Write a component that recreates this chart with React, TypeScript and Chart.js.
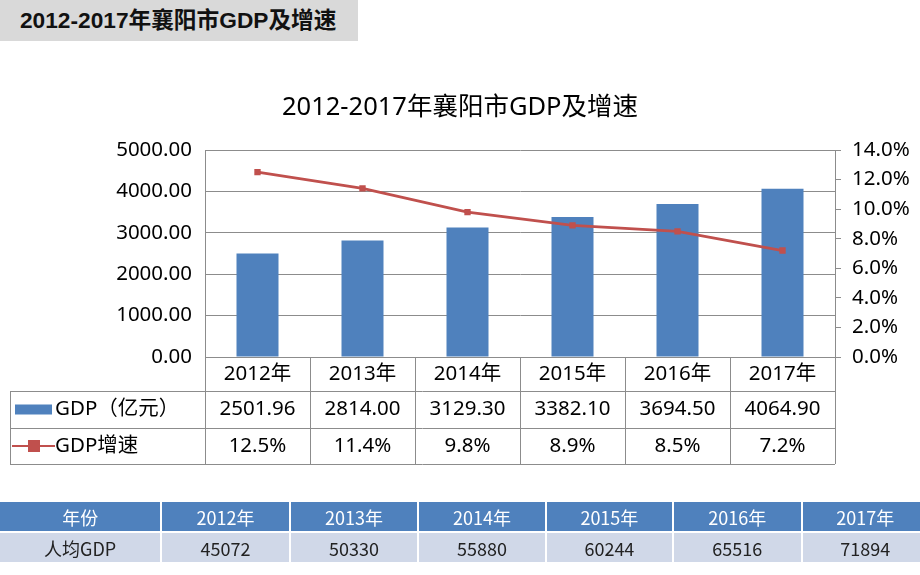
import React, { useEffect, useRef } from "react";
import { Chart, registerables } from "chart.js";

Chart.register(...registerables);

const headerTitle = "2012-2017年襄阳市GDP及增速";
const chartTitle = "2012-2017年襄阳市GDP及增速";
const categories = ["2012年", "2013年", "2014年", "2015年", "2016年", "2017年"];
const gdpLabel = "GDP（亿元）";
const gdpValues = [2501.96, 2814.0, 3129.3, 3382.1, 3694.5, 4064.9];
const rateLabel = "GDP增速";
const rateValues = [12.5, 11.4, 9.8, 8.9, 8.5, 7.2];
const perCapitaHeader = "年份";
const perCapitaLabel = "人均GDP";
const perCapitaValues = [45072, 50330, 55880, 60244, 65516, 71894];

const BLUE = "#4f81bd";
const RED = "#c0504d";
const GRID = "#8c8c8c";
const FONT = "'Noto Sans', 'Noto Sans CJK SC', sans-serif";
const FS = 20.5;

const tablePlugin = {
  id: "dataTable",
  afterDraw(chart: any) {
    const { ctx, chartArea, scales } = chart;
    const xs = scales.x;
    const n = categories.length;
    const left = chartArea.left;
    const right = chartArea.right;
    const cw = (right - left) / n;
    const top = chartArea.bottom;
    const r1 = top + 34;
    const r2 = r1 + 37;
    const r3 = r2 + 36;
    const legendLeft = 10;
    ctx.save();
    ctx.fillStyle = "#000";
    ctx.font = `25.5px ${FONT}`;
    ctx.textAlign = "center";
    ctx.textBaseline = "middle";
    ctx.fillText(chartTitle, 460, 108);

    ctx.strokeStyle = GRID;
    ctx.lineWidth = 1;
    ctx.beginPath();
    [r1, r2, r3].forEach((y) => {
      ctx.moveTo(legendLeft, y + 0.5);
      ctx.lineTo(right, y + 0.5);
    });
    for (let i = 0; i <= n; i++) {
      const x = Math.round(left + i * cw) + 0.5;
      ctx.moveTo(x, top);
      ctx.lineTo(x, r3);
    }
    ctx.moveTo(legendLeft + 0.5, r1);
    ctx.lineTo(legendLeft + 0.5, r3);
    ctx.stroke();

    ctx.font = `${FS}px ${FONT}`;
    ctx.fillStyle = "#000";
    ctx.textAlign = "center";
    ctx.textBaseline = "middle";
    for (let i = 0; i < n; i++) {
      const cx = xs.getPixelForValue(i);
      ctx.fillText(categories[i], cx, (top + r1) / 2);
      ctx.fillText(gdpValues[i].toFixed(2), cx, (r1 + r2) / 2);
      ctx.fillText(rateValues[i].toFixed(1) + "%", cx, (r2 + r3) / 2);
    }
    const y2 = (r1 + r2) / 2;
    const y3 = (r2 + r3) / 2;
    ctx.fillStyle = BLUE;
    ctx.fillRect(15, y2 - 5, 37, 10);
    ctx.strokeStyle = RED;
    ctx.lineWidth = 2;
    ctx.beginPath();
    ctx.moveTo(12, y3);
    ctx.lineTo(55, y3);
    ctx.stroke();
    ctx.fillStyle = RED;
    ctx.fillRect(28, y3 - 6, 12, 12);
    ctx.fillStyle = "#000";
    ctx.textAlign = "left";
    ctx.fillText(gdpLabel, 55, y2);
    ctx.fillText(rateLabel, 55, y3);
    ctx.restore();
  },
};

function ChartCanvas() {
  const ref = useRef<HTMLCanvasElement | null>(null);
  useEffect(() => {
    if (!ref.current) return;
    const chart = new Chart(ref.current, {
      data: {
        labels: categories,
        datasets: [
          {
            type: "line",
            label: rateLabel,
            data: rateValues,
            yAxisID: "y1",
            borderColor: RED,
            backgroundColor: RED,
            borderWidth: 2.8,
            pointStyle: "rect",
            pointRadius: 4.5,
            pointBorderWidth: 0,
            order: 0,
          },
          {
            type: "bar",
            label: gdpLabel,
            data: gdpValues,
            yAxisID: "y",
            backgroundColor: BLUE,
            categoryPercentage: 0.8,
            barPercentage: 0.5,
            order: 1,
          },
        ],
      } as any,
      options: {
        animation: false,
        responsive: false,
        maintainAspectRatio: false,
        layout: { padding: { top: 150, left: 0, right: 0, bottom: 0 } },
        plugins: {
          legend: { display: false },
          title: { display: false },
          tooltip: { enabled: false },
        },
        scales: {
          x: {
            ticks: { display: false },
            grid: { display: false },
            border: { display: true, color: GRID },
            afterFit: (axis: any) => {
              axis.height = 575 - 357;
            },
          },
          y: {
            position: "left",
            min: 0,
            max: 5000,
            ticks: {
              stepSize: 1000,
              padding: 13,
              color: "#000",
              font: { size: FS, family: FONT },
              callback: (v: any) => Number(v).toFixed(2),
            },
            grid: { color: GRID, drawTicks: false },
            border: { display: true, color: GRID },
            afterFit: (axis: any) => {
              axis.width = 205;
            },
          },
          y1: {
            position: "right",
            min: 0,
            max: 14,
            ticks: {
              stepSize: 2,
              padding: 11,
              color: "#000",
              font: { size: FS, family: FONT },
              callback: (v: any) => Number(v).toFixed(1) + "%",
            },
            grid: { drawOnChartArea: false, drawTicks: true, tickLength: 6, color: GRID },
            border: { display: true, color: GRID },
            afterFit: (axis: any) => {
              axis.width = 920 - 835;
            },
          },
        },
      } as any,
      plugins: [tablePlugin],
    });
    return () => chart.destroy();
  }, []);
  return <canvas ref={ref} width={920} height={575} style={{ position: "absolute", left: 0, top: 0 }} />;
}

export default function App() {
  const colW = [161, 127, 127, 126, 126, 127, 126];
  const cell = (w: number, bg: string, color: string, text: string, key: number) => (
    <div
      key={key}
      style={{
        width: w,
        background: bg,
        color,
        display: "flex",
        alignItems: "center",
        justifyContent: "center",
        boxSizing: "border-box",
        marginRight: 2,
      }}
    >
      {text}
    </div>
  );
  return (
    <div style={{ position: "absolute", left: 0, top: 0, width: 920, height: 575, background: "#fff", overflow: "hidden" }}>
      <ChartCanvas />
      <div
        style={{
          position: "absolute",
          left: 0,
          top: 0,
          width: 358,
          height: 41,
          background: "#d9d9d9",
          fontFamily: "'Liberation Sans', 'Noto Sans CJK SC', sans-serif",
          fontWeight: "bold",
          fontSize: 22.7,
          lineHeight: "41px",
          paddingLeft: 20,
          boxSizing: "border-box",
          color: "#111",
          whiteSpace: "nowrap",
        }}
      >
        {headerTitle}
      </div>
      <div
        style={{
          position: "absolute",
          left: 0,
          top: 502,
          width: 930,
          fontFamily: "'Noto Sans CJK SC', sans-serif",
          fontSize: 18,
        }}
      >
        <div style={{ display: "flex", height: 29 }}>
          {[perCapitaHeader, ...categories].map((t, i) => cell(colW[i], BLUE, "#fff", t, i))}
        </div>
        <div style={{ display: "flex", height: 29, marginTop: 2 }}>
          {[perCapitaLabel, ...perCapitaValues.map((v) => String(v))].map((t, i) =>
            cell(colW[i], "#d0d8e8", "#222", t, i)
          )}
        </div>
      </div>
    </div>
  );
}
